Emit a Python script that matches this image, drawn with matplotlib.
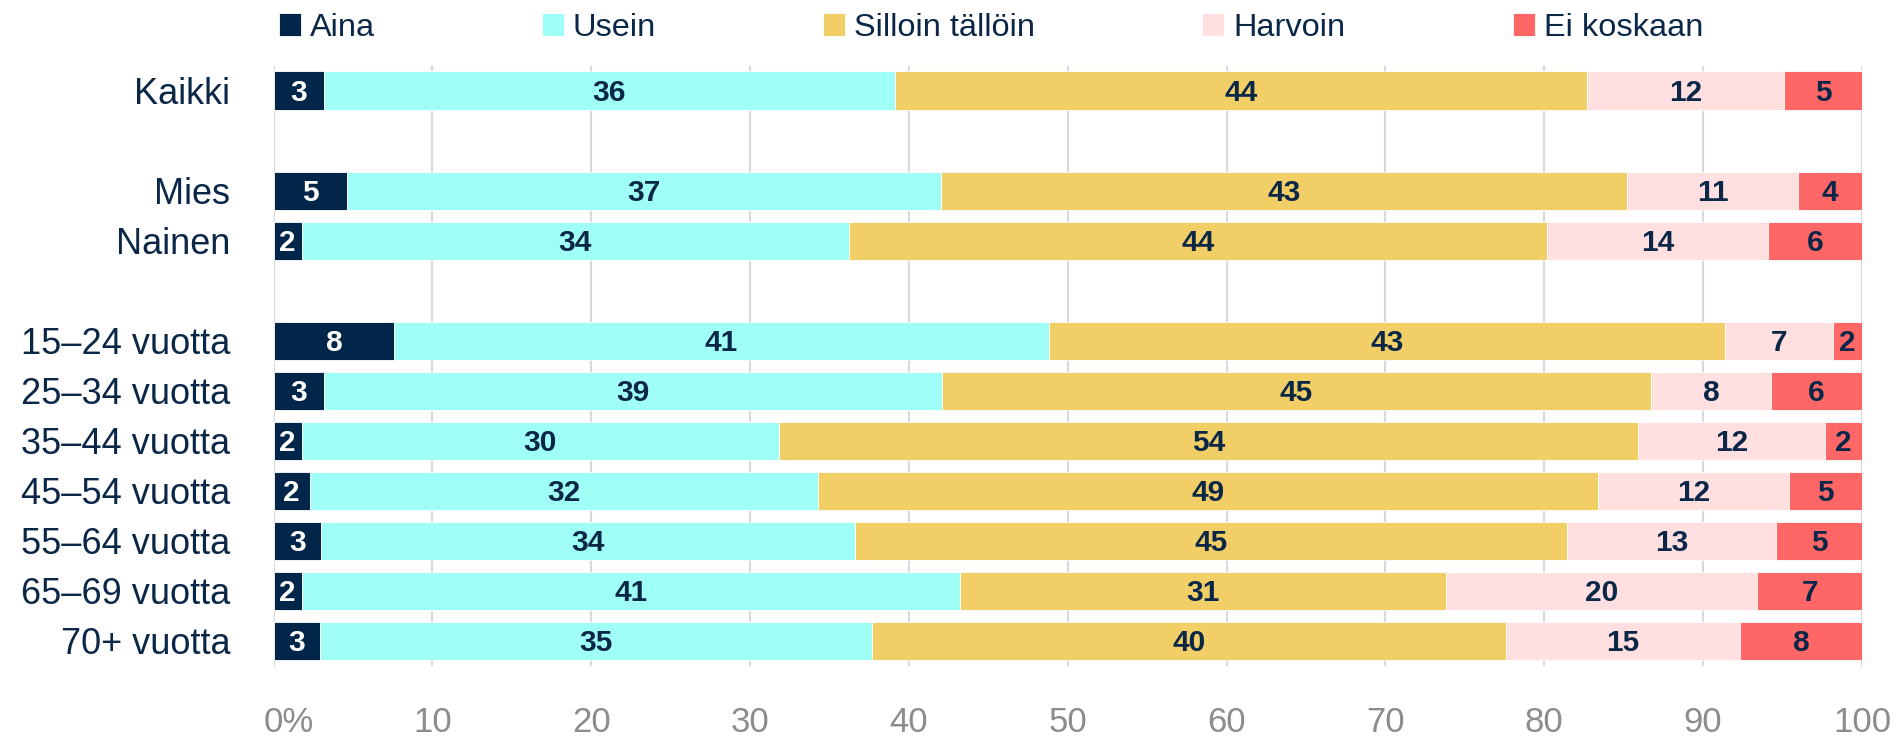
import matplotlib
matplotlib.use("Agg")
import matplotlib.pyplot as plt
from matplotlib.transforms import ScaledTranslation

plt.rcParams['font.family'] = ['Liberation Sans', 'DejaVu Sans']

# ---- data ----
groups = [
    ["Kaikki"],
    ["Mies", "Nainen"],
    ["15–24 vuotta", "25–34 vuotta", "35–44 vuotta", "45–54 vuotta",
     "55–64 vuotta", "65–69 vuotta", "70+ vuotta"],
]
series_names = ["Aina", "Usein", "Silloin tällöin", "Harvoin", "Ei koskaan"]
aina     = [3.2, 4.6, 1.8, 7.6, 3.2, 1.8, 2.3, 3.0, 1.8, 2.9]
usein    = [35.9, 37.4, 34.4, 41.2, 38.9, 30.0, 32.0, 33.6, 41.4, 34.8]
silloin  = [43.6, 43.2, 44.0, 42.6, 44.6, 54.1, 49.1, 44.8, 30.6, 39.9]
harvoin  = [12.4, 10.8, 13.9, 6.8, 7.6, 11.8, 12.0, 13.2, 19.6, 14.7]
ei       = [4.9, 4.0, 5.9, 1.8, 5.7, 2.3, 4.6, 5.4, 6.6, 7.7]
xticks = [0, 10, 20, 30, 40, 50, 60, 70, 80, 90, 100]
xticklabels = ["0%", "10", "20", "30", "40", "50", "60", "70", "80", "90", "100"]

colors = ["#022649", "#9ffff6", "#f2cf66", "#ffdfe0", "#ff6666"]
text_colors = ["white", "#0b2748", "#0b2748", "#0b2748", "#0b2748"]
navy = "#0b2748"

# positions with blank rows between groups
categories = []
positions = []
pos = 0
for gi, g in enumerate(groups):
    if gi > 0:
        pos += 1
    for c in g:
        categories.append(c)
        positions.append(pos)
        pos += 1
nrows = pos

W, H = 1900, 741
fig = plt.figure(figsize=(W / 100, H / 100), dpi=100)
ax = fig.add_axes([273.5 / W, 1 - 666 / H, (1862 - 273.5) / W, (666 - 65.7) / H])

series = [aina, usein, silloin, harvoin, ei]
left = [0.0] * len(categories)
handles = []
for s, name, col, tc in zip(series, series_names, colors, text_colors):
    bars = ax.barh(positions, s, left=left, height=0.77, color=col,
                   edgecolor="white", linewidth=0.6, label=name, zorder=2)
    handles.append(bars)
    for p, l, v in zip(positions, left, s):
        ax.text(l + v / 2, p + 0.05, f"{v:.0f}", ha="center", va="center",
                fontsize=21.5, fontweight="bold", color=tc, zorder=3)
    left = [a + b for a, b in zip(left, s)]

ax.set_xlim(0, 100)
ax.set_ylim(nrows - 0.5, -0.5)
ax.set_xticks(xticks)
ax.set_xticklabels(xticklabels)
ax.set_yticks(positions)
ax.set_yticklabels(categories)
ax.xaxis.grid(True, color="#d9d9d9", linewidth=1.5, zorder=0)
ax.set_axisbelow(True)
for sp in ax.spines.values():
    sp.set_visible(False)
ax.tick_params(axis="x", length=0, pad=29, labelsize=25, labelcolor="#8c8c8c")
ax.tick_params(axis="y", length=0, pad=31, labelsize=26, labelcolor=navy)

# "0%": the number sits on the tick, the % sign trails to the right
first = ax.get_xticklabels()[0]
first.set_transform(first.get_transform() +
                    ScaledTranslation(15 / 100, 0, fig.dpi_scale_trans))

leg = fig.legend(handles=handles, labels=series_names, loc="center",
                 bbox_to_anchor=(0.5215, 1 - 28 / H), ncol=5, frameon=False,
                 fontsize=23.4, handlelength=0.677, handleheight=0.677,
                 handletextpad=0.28, columnspacing=5.14, borderpad=0,
                 borderaxespad=0)
for t in leg.get_texts():
    t.set_color(navy)

fig.savefig("out.png", dpi=100)
